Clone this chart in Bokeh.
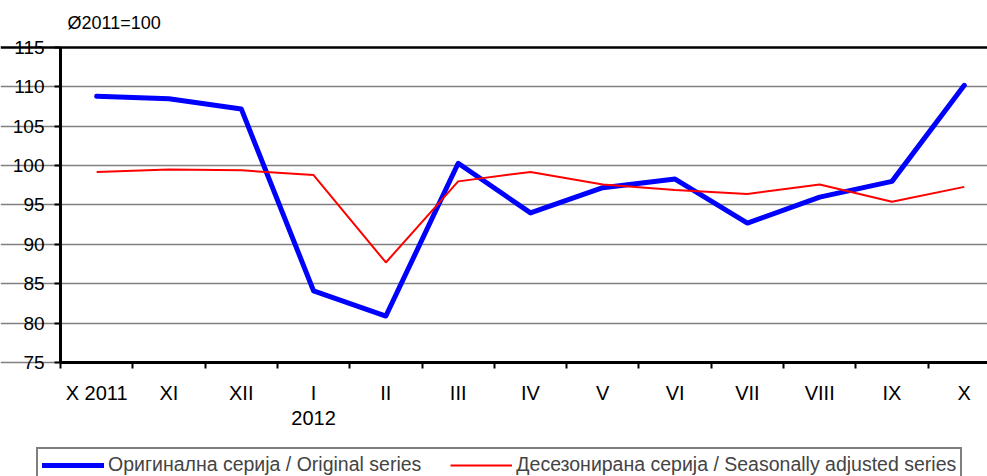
from bokeh.plotting import figure
from bokeh.models import Range1d, FixedTicker, Legend, LegendItem, Label, LinearAxis, Grid
from bokeh.embed import file_html
from bokeh.resources import INLINE

months = ["X 2011", "XI", "XII", "I", "II", "III", "IV", "V", "VI", "VII", "VIII", "IX", "X"]
original = [108.8, 108.5, 107.2, 84.1, 80.9, 100.3, 94.0, 97.2, 98.3, 92.7, 96.0, 98.0, 110.2]
adjusted = [99.2, 99.5, 99.4, 98.8, 87.7, 98.0, 99.2, 97.6, 96.9, 96.4, 97.6, 95.4, 97.3]
y_ticks = [75, 80, 85, 90, 95, 100, 105, 110, 115]
base_label = "Ø2011=100"
year_label = "2012"
name_orig = "Оригинална серија / Original series"
name_adj = "Десезонирана серија / Seasonally adjusted series"

FONT = "Liberation Sans"
xs = list(range(len(months)))
X_LO, X_HI = -0.5, 12.321
Y_LO, Y_HI = 75, 115

p = figure(width=987, height=476, output_backend="svg", toolbar_location=None,
           x_range=Range1d(-1.330, X_HI), y_range=Range1d(60.52, 120.97),
           x_axis_type=None, y_axis_type=None, min_border=0)
p.outline_line_color = None
p.background_fill_color = "white"
p.border_fill_color = "white"
p.xgrid.visible = False
p.ygrid.visible = False

# horizontal gridlines limited to the plot area
grid = Grid(dimension=1, ticker=FixedTicker(ticks=y_ticks[:-1]), bounds=(X_LO, X_HI),
            grid_line_color="#808080", grid_line_width=1.5)
p.add_layout(grid)
top_border = Grid(dimension=1, ticker=FixedTicker(ticks=[Y_HI]), bounds=(X_LO, X_HI),
                  grid_line_color="black", grid_line_width=2.5)
p.add_layout(top_border)

r_orig = p.line(xs, original, line_color="#0000FF", line_width=5, line_join="round", line_cap="round")
r_adj = p.line(xs, adjusted, line_color="#FF0000", line_width=2)

# x axis
xaxis = LinearAxis(fixed_location=Y_LO, bounds=(X_LO, X_HI),
                   ticker=FixedTicker(ticks=xs, minor_ticks=[x - 0.5 for x in xs]))
xaxis.major_label_overrides = {i: m for i, m in enumerate(months)}
xaxis.major_tick_line_color = None
xaxis.major_tick_out = 0
xaxis.major_tick_in = 0
xaxis.minor_tick_out = 6
xaxis.minor_tick_in = 0
xaxis.minor_tick_line_color = "black"
xaxis.minor_tick_line_width = 2
xaxis.axis_line_color = "black"
xaxis.axis_line_width = 3
xaxis.major_label_standoff = 14
xaxis.major_label_text_font = FONT
xaxis.major_label_text_font_size = "20px"
xaxis.major_label_text_color = "black"
p.add_layout(xaxis, "below")

# y axis
yaxis = LinearAxis(fixed_location=X_LO, bounds=(Y_LO, Y_HI), ticker=FixedTicker(ticks=y_ticks))
yaxis.minor_tick_line_color = None
yaxis.major_tick_out = 6
yaxis.major_tick_in = 0
yaxis.major_tick_line_width = 2
yaxis.major_tick_line_color = "black"
yaxis.axis_line_color = "black"
yaxis.axis_line_width = 3
yaxis.major_label_standoff = 10
yaxis.major_label_text_font = FONT
yaxis.major_label_text_font_size = "19px"
yaxis.major_label_text_color = "black"
p.add_layout(yaxis, "left")

p.add_layout(Label(x=-0.403, y=118.17, text=base_label, text_font=FONT, text_font_size="18px",
                   text_baseline="middle", text_align="left", text_color="black"))
p.add_layout(Label(x=3, y=67.9, text=year_label, text_font=FONT, text_font_size="20px",
                   text_baseline="middle", text_align="center", text_color="black"))

legend = Legend(items=[LegendItem(label=name_orig, renderers=[r_orig]),
                       LegendItem(label=name_adj, renderers=[r_adj])],
                orientation="horizontal", location=(36, -6))
legend.border_line_color = "black"
legend.border_line_width = 2
legend.padding = 4
legend.margin = 0
legend.spacing = 29
legend.glyph_width = 62
legend.glyph_height = 18
legend.label_height = 18
legend.label_standoff = 4
legend.label_text_font = FONT
legend.label_text_font_size = "19.5px"
legend.label_text_baseline = "middle"
legend.background_fill_alpha = 1
p.add_layout(legend)

open("out.html", "w").write(file_html(p, INLINE))
